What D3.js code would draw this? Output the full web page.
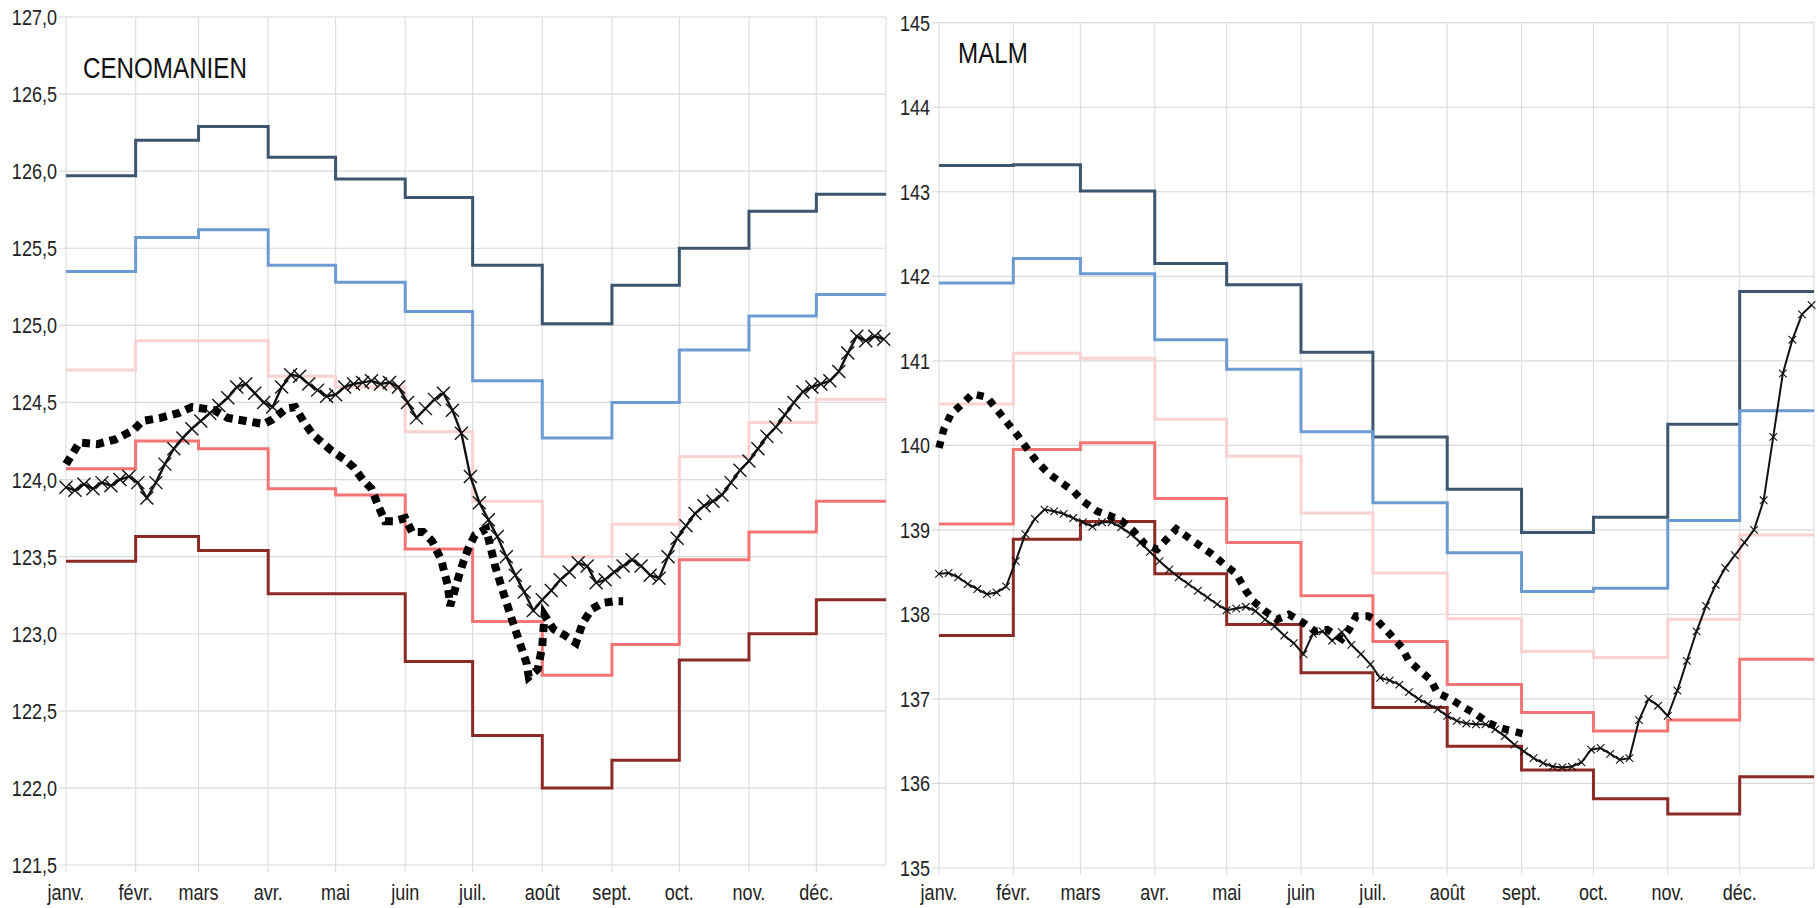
<!DOCTYPE html>
<html>
<head>
<meta charset="utf-8">
<script src="https://cdn.jsdelivr.net/npm/d3@7"></script>
<style>
  body { margin: 0; background: #fff; }
  text { font-family: 'Liberation Sans', Arial, sans-serif; fill: #222; }
</style>
</head>
<body>
<svg id="chart" width="1818" height="908"></svg>
<script>
const months = ['janv.', 'févr.', 'mars', 'avr.', 'mai', 'juin', 'juil.', 'août', 'sept.', 'oct.', 'nov.', 'déc.'];
const monthStart = [0, 31, 59, 90, 120, 151, 181, 212, 243, 273, 304, 334];
const yearDays = 365;
const crossStep = 4; // one cross point every 4 days

// CENOMANIEN, monthly levels
const cenoDarkBlue = [125.97, 126.2, 126.29, 126.09, 125.95, 125.83, 125.39, 125.01, 125.26, 125.5, 125.74, 125.85];
const cenoBlue = [125.35, 125.57, 125.62, 125.39, 125.28, 125.09, 124.64, 124.27, 124.5, 124.84, 125.06, 125.2];
const cenoPink = [124.71, 124.9, 124.9, 124.67, 124.6, 124.31, 123.86, 123.5, 123.71, 124.15, 124.37, 124.52];
const cenoSalmon = [124.07, 124.25, 124.2, 123.94, 123.9, 123.55, 123.08, 122.73, 122.93, 123.48, 123.66, 123.86];
const cenoDarkRed = [123.47, 123.63, 123.54, 123.26, 123.26, 122.82, 122.34, 122.0, 122.18, 122.83, 123.0, 123.22];

// CENOMANIEN, daily record (every 4 days)
const cenoCross = [
  123.95, 123.93, 123.97, 123.94, 123.98, 123.96, 124.0, 124.02, 123.98, 123.88,
  123.98, 124.1, 124.2, 124.27, 124.33, 124.38, 124.43, 124.48, 124.53, 124.6,
  124.62, 124.56, 124.5, 124.47, 124.6, 124.68, 124.67, 124.62, 124.58, 124.54,
  124.55, 124.6, 124.62, 124.63, 124.64, 124.62, 124.63, 124.6, 124.5, 124.4,
  124.46, 124.52, 124.56, 124.45, 124.3, 124.02, 123.85, 123.74, 123.63, 123.5,
  123.38, 123.27, 123.15, 123.22, 123.28, 123.35, 123.4, 123.46, 123.44, 123.33,
  123.35, 123.4, 123.44, 123.48, 123.44, 123.38, 123.36, 123.5, 123.62, 123.7,
  123.78, 123.83, 123.86, 123.9, 123.98, 124.06, 124.12, 124.2, 124.28, 124.34,
  124.42, 124.5, 124.57, 124.6, 124.62, 124.64, 124.7, 124.82, 124.93, 124.9,
  124.93, 124.91
];

// CENOMANIEN, dotted record [day, value]
const cenoDotted = [
  [0, 124.1], [6, 124.24], [14, 124.23], [22, 124.26], [30, 124.32], [34, 124.38], [42, 124.4],
  [50, 124.43], [56, 124.47], [66, 124.45], [72, 124.4], [80, 124.38], [88, 124.36], [92, 124.39],
  [98, 124.46], [102, 124.47], [106, 124.37], [110, 124.29], [118, 124.19], [124, 124.13],
  [128, 124.08], [132, 124.0], [136, 123.94], [139, 123.83], [142, 123.73], [146, 123.73],
  [151, 123.75], [154, 123.66], [159, 123.66], [163, 123.6], [167, 123.48], [170, 123.31],
  [171, 123.18], [174, 123.33], [176, 123.43], [179, 123.55], [182, 123.64], [187, 123.68],
  [191, 123.44], [195, 123.25], [199, 123.07], [202, 122.94], [205, 122.81], [206, 122.72],
  [210, 122.77], [212, 122.92], [213, 123.12], [217, 123.03], [222, 122.99], [227, 122.94],
  [230, 123.07], [234, 123.16], [239, 123.2], [244, 123.21], [248, 123.21]
];

// MALM, monthly levels
const malmDarkBlue = [143.31, 143.32, 143.01, 142.15, 141.9, 141.1, 140.1, 139.48, 138.97, 139.15, 140.25, 141.82];
const malmBlue = [141.92, 142.21, 142.03, 141.25, 140.9, 140.16, 139.32, 138.73, 138.27, 138.31, 139.11, 140.41];
const malmPink = [140.49, 141.09, 141.03, 140.31, 139.87, 139.2, 138.49, 137.95, 137.56, 137.49, 137.94, 138.94];
const malmSalmon = [139.07, 139.95, 140.03, 139.37, 138.85, 138.22, 137.68, 137.17, 136.84, 136.62, 136.75, 137.47];
const malmDarkRed = [137.75, 138.89, 139.1, 138.48, 137.88, 137.31, 136.9, 136.44, 136.16, 135.82, 135.64, 136.08];

// MALM, daily record (every 4 days)
const malmCross = [
  138.48, 138.49, 138.44, 138.36, 138.3, 138.24, 138.26, 138.33, 138.63, 138.95,
  139.13, 139.24, 139.22, 139.19, 139.14, 139.09, 139.04, 139.09, 139.09, 139.03,
  138.95, 138.85, 138.74, 138.63, 138.53, 138.44, 138.36, 138.28, 138.2, 138.12,
  138.05, 138.07, 138.09, 138.04, 137.94, 137.86, 137.75, 137.66, 137.53, 137.77,
  137.8, 137.69, 137.79, 137.64, 137.53, 137.41, 137.25, 137.22, 137.17, 137.08,
  137.0, 136.94, 136.88, 136.8, 136.74, 136.71, 136.7, 136.7, 136.64, 136.56,
  136.46, 136.38, 136.3, 136.24, 136.2, 136.19, 136.2, 136.25, 136.4, 136.42,
  136.35, 136.28, 136.3, 136.75, 137.0, 136.92, 136.8, 137.1, 137.45, 137.8,
  138.1, 138.35, 138.55, 138.7, 138.85, 139.0, 139.35, 140.1, 140.85, 141.25,
  141.55, 141.66
];

// MALM, dotted record [day, value]
const malmDotted = [
  [0, 139.97], [2, 140.19], [5, 140.37], [9, 140.47], [14, 140.61], [20, 140.57], [24, 140.43],
  [29, 140.25], [33, 140.11], [37, 139.95], [41, 139.8], [46, 139.66], [51, 139.56], [56, 139.46],
  [60, 139.34], [66, 139.22], [71, 139.17], [76, 139.11], [81, 138.99], [86, 138.83], [91, 138.77],
  [95, 138.89], [99, 139.01], [104, 138.91], [110, 138.79], [114, 138.71], [119, 138.59],
  [124, 138.48], [128, 138.28], [131, 138.16], [136, 138.04], [141, 137.94], [146, 138.0],
  [152, 137.9], [157, 137.8], [162, 137.82], [168, 137.71], [171, 137.82], [174, 137.98],
  [179, 137.98], [183, 137.92], [188, 137.77], [193, 137.61], [196, 137.45], [200, 137.35],
  [205, 137.23], [208, 137.07], [214, 136.99], [219, 136.9], [224, 136.82], [229, 136.72],
  [234, 136.66], [239, 136.62], [245, 136.58]
];

const stepColors = ['#3d5670', '#6b9bd2', '#fbd2d2', '#f47474', '#8c2b25'];
const commaFmt = v => d3.format('.1f')(v).replace('.', ',');

const panels = [
  {
    title: 'CENOMANIEN', titleX: 83, titleY: 78,
    x0: 66, x1: 886, yTop: 17, yBottom: 865,
    domain: [121.5, 127], ticks: d3.range(121.5, 127.01, 0.5), fmt: commaFmt,
    steps: [cenoDarkBlue, cenoBlue, cenoPink, cenoSalmon, cenoDarkRed],
    cross: cenoCross, dotted: cenoDotted,
    crossSize: 6.5, crossWidth: 1.4, crossLine: 2.4, dotWidth: 8, dash: '8,6'
  },
  {
    title: 'MALM', titleX: 958, titleY: 63,
    x0: 939, x1: 1814, yTop: 22.7, yBottom: 868,
    domain: [135, 145], ticks: d3.range(135, 145.01, 1), fmt: d3.format('d'),
    steps: [malmDarkBlue, malmBlue, malmPink, malmSalmon, malmDarkRed],
    cross: malmCross, dotted: malmDotted,
    crossSize: 3.8, crossWidth: 1.1, crossLine: 2, dotWidth: 7.5, dash: '7,7'
  }
];

const svg = d3.select('#chart');
const xStretch = 0.82; // labels in the source look narrow

panels.forEach(p => {
  const x = d3.scaleLinear().domain([0, yearDays]).range([p.x0, p.x1]);
  const y = d3.scaleLinear().domain(p.domain).range([p.yBottom, p.yTop]);
  const g = svg.append('g');

  // grid
  g.selectAll('line.hgrid').data(p.ticks).enter().append('line')
    .attr('x1', p.x0 - 7).attr('x2', p.x1)
    .attr('y1', d => y(d)).attr('y2', d => y(d))
    .attr('stroke', '#dadada').attr('stroke-width', 1.2);
  g.selectAll('line.vgrid').data(monthStart.concat([yearDays])).enter().append('line')
    .attr('x1', d => x(d)).attr('x2', d => x(d))
    .attr('y1', p.yTop).attr('y2', (d, i) => i < 12 ? p.yBottom + 7 : p.yBottom)
    .attr('stroke', '#dedede').attr('stroke-width', 1.2);

  // y labels
  g.selectAll('text.ylab').data(p.ticks).enter().append('text')
    .attr('transform', d => `translate(${p.x0 - 9},${y(d) + 8}) scale(${xStretch},1)`)
    .attr('text-anchor', 'end')
    .style('font-size', '22px')
    .text(d => p.fmt(d));

  // month labels
  g.selectAll('text.xlab').data(months).enter().append('text')
    .attr('transform', (d, i) => `translate(${x(monthStart[i])},900) scale(${xStretch},1)`)
    .attr('text-anchor', 'middle')
    .style('font-size', '22px')
    .text(d => d);

  // monthly step lines
  const stepLine = d3.line().x(d => x(d[0])).y(d => y(d[1])).curve(d3.curveStepAfter);
  p.steps.forEach((vals, k) => {
    const pts = monthStart.map((d, i) => [d, vals[i]]);
    pts.push([yearDays, vals[11]]);
    g.append('path').datum(pts)
      .attr('d', stepLine)
      .attr('fill', 'none')
      .attr('stroke', stepColors[k])
      .attr('stroke-width', 3);
  });

  // daily record with crosses
  const crossPts = p.cross.map((v, i) => [Math.min(i * crossStep, yearDays - 1), v]);
  const line = d3.line().x(d => x(d[0])).y(d => y(d[1]));
  g.append('path').datum(crossPts)
    .attr('d', line)
    .attr('fill', 'none')
    .attr('stroke', '#111')
    .attr('stroke-width', p.crossLine);
  const s = p.crossSize;
  g.selectAll('path.cross').data(crossPts).enter().append('path')
    .attr('transform', d => `translate(${x(d[0])},${y(d[1])})`)
    .attr('d', `M${-s},${-s}L${s},${s}M${-s},${s}L${s},${-s}`)
    .attr('stroke', '#111')
    .attr('stroke-width', p.crossWidth);

  // dotted record
  g.append('path').datum(p.dotted)
    .attr('d', line)
    .attr('fill', 'none')
    .attr('stroke', '#000')
    .attr('stroke-width', p.dotWidth)
    .attr('stroke-dasharray', p.dash);

  // title
  g.append('text')
    .attr('transform', `translate(${p.titleX},${p.titleY}) scale(${xStretch},1)`)
    .style('font-size', '29.5px')
    .style('fill', '#111')
    .text(p.title);
});
</script>
</body>
</html>
